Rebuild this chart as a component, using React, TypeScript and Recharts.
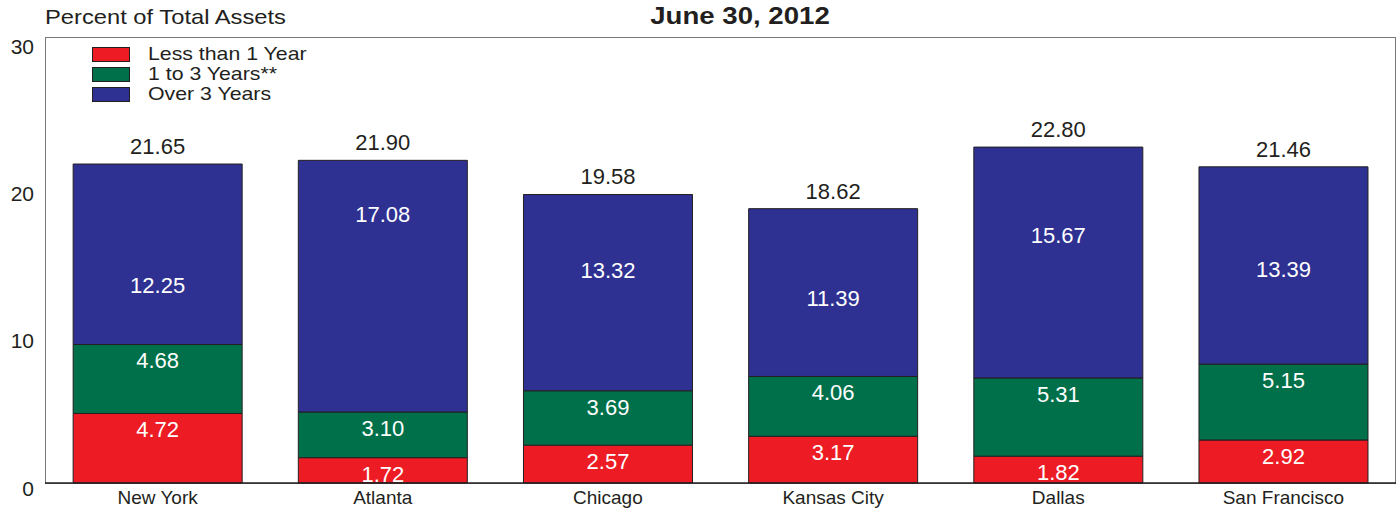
import { BarChart, Bar, XAxis, YAxis, LabelList } from "recharts";

const cities = ["New York", "Atlanta", "Chicago", "Kansas City", "Dallas", "San Francisco"];
const lessThan1 = [4.72, 1.72, 2.57, 3.17, 1.82, 2.92];
const oneTo3 = [4.68, 3.1, 3.69, 4.06, 5.31, 5.15];
const over3 = [12.25, 17.08, 13.32, 11.39, 15.67, 13.39];
const totals = [21.65, 21.9, 19.58, 18.62, 22.8, 21.46];
const yTicks = [0, 10, 20, 30];

const data = cities.map((city, i) => ({
  city,
  less: lessThan1[i],
  mid: oneTo3[i],
  over: over3[i],
  total: totals[i],
}));

const RED = "#ed1c24";
const GREEN = "#00704a";
const BLUE = "#2e3192";
const INK = "#231f20";
const FONT = "'Liberation Sans', Arial, sans-serif";

const legendItems = [
  { label: "Less than 1 Year", color: RED },
  { label: "1 to 3 Years**", color: GREEN },
  { label: "Over 3 Years", color: BLUE },
];

const LegendBox = () => (
  <div style={{ position: "absolute", left: 92, top: 44, fontFamily: FONT, fontSize: 19, color: INK, lineHeight: "20px" }}>
    {legendItems.map((it) => (
      <div key={it.label} style={{ display: "flex", alignItems: "center", height: 20 }}>
        <span
          style={{
            display: "inline-block",
            width: 36,
            height: 13,
            background: it.color,
            border: `1px solid ${INK}`,
            marginRight: 18,
          }}
        />
        <span style={{ display: "inline-block", transform: "scaleX(1.12)", transformOrigin: "left center", whiteSpace: "nowrap" }}>
          {it.label}
        </span>
      </div>
    ))}
  </div>
);

// white value inside a segment, just below its top edge
const innerLabel = (props: any) => {
  const { x, y, width, value } = props;
  return (
    <text x={x + width / 2} y={y + 16} dy="0.36em" textAnchor="middle" fill="#fff" fontSize={22} fontFamily={FONT}>
      {Number(value).toFixed(2)}
    </text>
  );
};

// label for the top segment sits at the height of its own value
const overLabel = (props: any) => {
  const { x, y, width, height, value, index } = props;
  const lower = lessThan1[index] + oneTo3[index];
  const cy = y + (lower / Number(value)) * height - 17;
  return (
    <text x={x + width / 2} y={cy} dy="0.36em" textAnchor="middle" fill="#fff" fontSize={22} fontFamily={FONT}>
      {Number(value).toFixed(2)}
    </text>
  );
};

const totalLabel = (props: any) => {
  const { x, y, width, index } = props;
  return (
    <text x={x + width / 2} y={y - 18} dy="0.36em" textAnchor="middle" fill={INK} fontSize={22} fontFamily={FONT}>
      {totals[index].toFixed(2)}
    </text>
  );
};

const yTick = (props: any) => {
  const { x, y, payload } = props;
  return (
    <text x={x} y={y + 5} dy="0.36em" textAnchor="end" fill={INK} fontSize={21} fontFamily={FONT}>
      {payload.value}
    </text>
  );
};

export default function App() {
  return (
    <div style={{ position: "absolute", left: 0, top: 0, width: 1398, height: 510, background: "#fff" }}>
      <div
        style={{
          position: "absolute",
          left: 45,
          top: 5,
          fontFamily: FONT,
          fontSize: 21,
          color: INK,
          whiteSpace: "nowrap",
          transform: "scaleX(1.13)",
          transformOrigin: "left center",
        }}
      >
        Percent of Total Assets
      </div>
      <div
        style={{
          position: "absolute",
          left: 740,
          top: 3,
          fontFamily: FONT,
          fontSize: 23,
          fontWeight: "bold",
          color: INK,
          whiteSpace: "nowrap",
          transform: "translateX(-50%) scaleX(1.2)",
        }}
      >
        June 30, 2012
      </div>
      {/* plot frame */}
      <div
        style={{
          position: "absolute",
          left: 45,
          top: 37,
          width: 1349,
          height: 445,
          border: "1px solid #777",
        }}
      />
      <BarChart
        width={1398}
        height={510}
        data={data}
        margin={{ top: 41, right: 2, left: 0, bottom: 0 }}
        barCategoryGap="12.5%"
      >
        <XAxis
          dataKey="city"
          height={27}
          tickLine={false}
          axisLine={{ stroke: INK, strokeWidth: 1.5 }}
          tick={{ fill: INK, fontSize: 19, fontFamily: FONT }}
          interval={0}
        />
        <YAxis
          domain={[0, 30]}
          ticks={yTicks}
          width={45}
          tickLine={false}
          tickMargin={5}
          axisLine={false}
          tick={yTick}
        />
        <Bar dataKey="less" stackId="a" fill={RED} stroke={INK} strokeWidth={1} isAnimationActive={false}>
          <LabelList dataKey="less" content={innerLabel} />
        </Bar>
        <Bar dataKey="mid" stackId="a" fill={GREEN} stroke={INK} strokeWidth={1} isAnimationActive={false}>
          <LabelList dataKey="mid" content={innerLabel} />
        </Bar>
        <Bar dataKey="over" stackId="a" fill={BLUE} stroke={INK} strokeWidth={1} isAnimationActive={false}>
          <LabelList dataKey="over" content={overLabel} />
          <LabelList dataKey="total" content={totalLabel} />
        </Bar>
      </BarChart>
      <LegendBox />
    </div>
  );
}
